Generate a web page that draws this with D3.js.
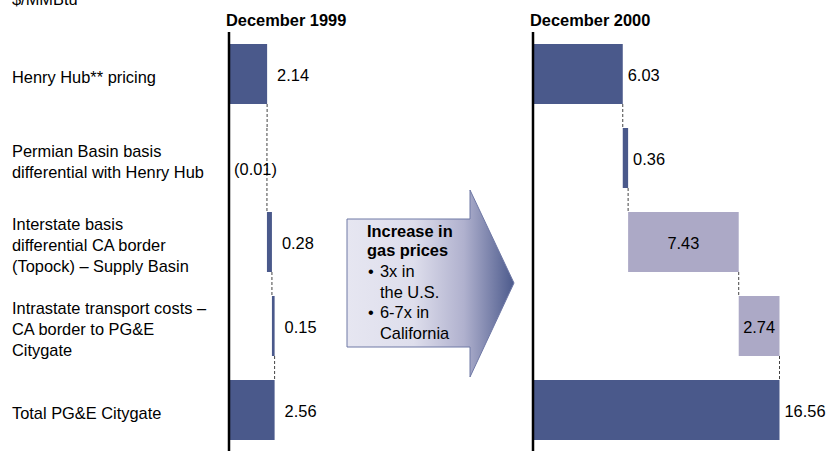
<!DOCTYPE html>
<html>
<head>
<meta charset="utf-8">
<script src="https://cdn.jsdelivr.net/npm/d3@7/dist/d3.min.js"></script>
<style>
  body { margin: 0; background: #fff; }
  svg { display: block; font-family: Arial, "Liberation Sans", sans-serif; }
</style>
</head>
<body>
<svg id="chart" width="827" height="451"></svg>
<script>
// data
var categories = [
  ["Henry Hub** pricing"],
  ["Permian Basin basis", "differential with Henry Hub"],
  ["Interstate basis", "differential CA border", "(Topock) \u2013 Supply Basin"],
  ["Intrastate transport costs \u2013", "CA border to PG&E", "Citygate"],
  ["Total PG&E Citygate"]
];
var kinds = ["base", "step", "step", "step", "total"];
var values1999 = [2.14, -0.01, 0.28, 0.15, 2.56];
var labels1999 = ["2.14", "(0.01)", "0.28", "0.15", "2.56"];
var values2000 = [6.03, 0.36, 7.43, 2.74, 16.56];
var labels2000 = ["6.03", "0.36", "7.43", "2.74", "16.56"];
var arrowTitle = ["Increase in", "gas prices"];
var arrowBullets = [["3x in", "the U.S."], ["6-7x in", "California"]];

var svg = d3.select("#chart");
var dark = "#4a598b", light = "#aca9c6";
var fs = 16.4;

var y = d3.scaleBand().domain(d3.range(categories.length))
  .range([32, 452]).paddingInner(24 / 84).paddingOuter(12 / 84);

// category labels
categories.forEach(function(lines, i) {
  var cy = y(i) + y.bandwidth() / 2 + 9;
  var t = svg.append("text").attr("font-size", fs).attr("fill", "#000");
  lines.forEach(function(l, j) {
    t.append("tspan").attr("x", 12)
      .attr("y", cy + (j - (lines.length - 1) / 2) * 21)
      .text(l);
  });
});

svg.append("text").attr("x", 12).attr("y", 5).attr("font-size", fs).text("$/MMBtu");

function panel(values, labels, title, x0, width, gap) {
  var x = d3.scaleLinear().domain([0, values[values.length - 1]]).range([x0, x0 + width]);
  var rows = [], cum = 0;
  values.forEach(function(v, i) {
    var a, b;
    if (kinds[i] == "step") { a = cum; b = cum + v; cum = b; }
    else { a = 0; b = v; cum = v; }
    rows.push({ i: i, v: v, a: Math.min(a, b), b: Math.max(a, b), end: b, label: labels[i] });
  });

  var g = svg.append("g");

  // connectors
  for (var i = 0; i < rows.length - 1; i++) {
    var xe = x(rows[i].end);
    g.append("line").attr("x1", xe).attr("x2", xe)
      .attr("y1", y(i) + y.bandwidth()).attr("y2", y(i + 1))
      .attr("stroke", "#444").attr("stroke-width", 1).attr("stroke-dasharray", "3,2");
  }

  rows.forEach(function(d) {
    var w = x(d.b) - x(d.a);
    var isLight = kinds[d.i] == "step" && d.v >= 1;
    if (w < 1) {
      g.append("line").attr("x1", x(d.end)).attr("x2", x(d.end))
        .attr("y1", y(d.i)).attr("y2", y(d.i) + y.bandwidth())
        .attr("stroke", "#444").attr("stroke-width", 1).attr("stroke-dasharray", "3,2");
    } else {
      g.append("rect").attr("x", x(d.a)).attr("y", y(d.i))
        .attr("width", w).attr("height", y.bandwidth())
        .attr("fill", isLight ? light : dark);
    }
    var by = y(d.i) + y.bandwidth() / 2 + 7;
    if (isLight) {
      g.append("text").attr("x", (x(d.a) + x(d.b)) / 2).attr("y", by)
        .attr("text-anchor", "middle").attr("font-size", fs).text(d.label);
    } else if (d.v < 0) {
      var lbl = g.append("text").attr("x", x(d.end) + 10).attr("y", by + 10)
        .attr("text-anchor", "end").attr("font-size", fs).text(d.label);
      var bb = lbl.node().getBBox();
      g.insert("rect", "text").attr("x", bb.x - 1).attr("y", bb.y)
        .attr("width", bb.width + 2).attr("height", bb.height).attr("fill", "#fff");
    } else {
      g.append("text").attr("x", x(d.b) + gap).attr("y", by)
        .attr("font-size", fs).text(d.label);
    }
  });

  // axis line
  svg.append("line").attr("x1", x(0)).attr("x2", x(0)).attr("y1", 32).attr("y2", 451)
    .attr("stroke", "#000").attr("stroke-width", 2.5);

  svg.append("text").attr("x", x0 - 3).attr("y", 26)
    .attr("font-size", fs).attr("font-weight", "bold").text(title);
}

panel(values1999, labels1999, "December 1999", 229, 45.6, 10);
panel(values2000, labels2000, "December 2000", 533, 246.5, 5);

// arrow
var defs = svg.append("defs");
var grad = defs.append("linearGradient").attr("id", "arrowGrad")
  .attr("x1", "0").attr("x2", "1").attr("y1", "0").attr("y2", "0");
[[0, "#e6e6f1"], [0.4, "#dedeec"], [0.7, "#b0b1ce"], [1, "#4c5a8c"]].forEach(function(s) {
  grad.append("stop").attr("offset", s[0]).attr("stop-color", s[1]);
});
var arrowPts = [[347, 219], [470, 219], [470, 190], [514, 283], [470, 377], [470, 347], [347, 347]];
svg.append("path").attr("d", d3.line()(arrowPts) + "Z")
  .attr("fill", "url(#arrowGrad)").attr("stroke", "#6f78a5").attr("stroke-width", 1);

var ty = 237;
arrowTitle.forEach(function(t, i) {
  svg.append("text").attr("x", 367).attr("y", ty + i * 19)
    .attr("font-size", fs).attr("font-weight", "bold").text(t);
});
var by = 277;
arrowBullets.forEach(function(b) {
  svg.append("text").attr("x", 368).attr("y", by).attr("font-size", fs).text("\u2022");
  b.forEach(function(l, j) {
    svg.append("text").attr("x", 380).attr("y", by + j * 20.5).attr("font-size", fs).text(l);
  });
  by += 41;
});
</script>
</body>
</html>
